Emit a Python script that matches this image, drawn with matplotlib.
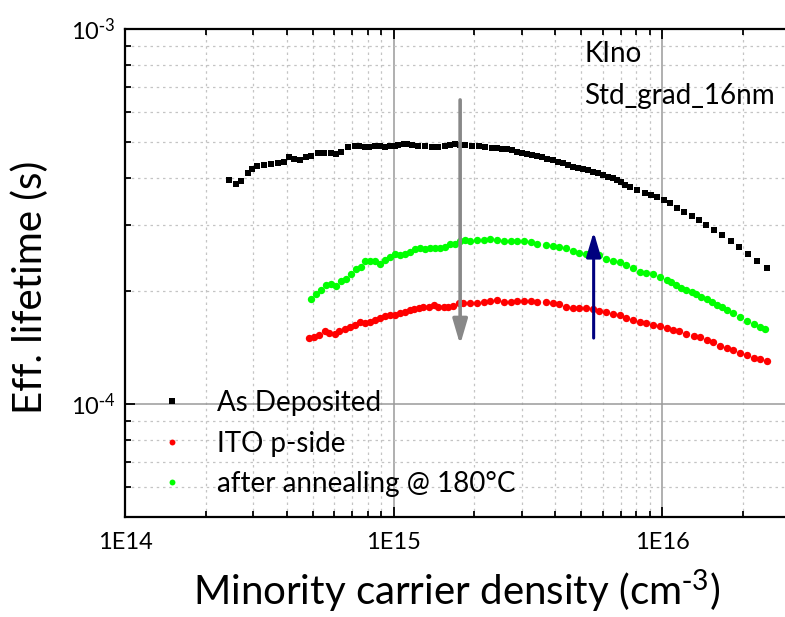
import numpy as np
import matplotlib
matplotlib.use("Agg")
import matplotlib.pyplot as plt
from matplotlib.ticker import FixedLocator, FuncFormatter, LogLocator, NullFormatter

plt.rcParams['font.family'] = ['Lato', 'DejaVu Sans']

# As Deposited (black squares)
dep_n = [2.44e14, 2.58e14, 2.71e14, 2.86e14, 2.98e14, 3.11e14, 3.30e14, 3.49e14, 3.70e14, 3.92e14,
         4.09e14, 4.27e14, 4.50e14, 4.72e14, 4.93e14, 5.22e14, 5.53e14, 5.86e14, 6.12e14, 6.38e14,
         6.76e14, 7.16e14, 7.46e14, 7.81e14, 8.13e14, 8.51e14, 8.87e14, 9.27e14, 9.66e14, 1.01e15,
         1.04e15, 1.09e15, 1.12e15, 1.17e15, 1.23e15, 1.31e15, 1.39e15, 1.47e15, 1.56e15, 1.62e15,
         1.70e15, 1.77e15, 1.85e15, 1.96e15, 2.08e15, 2.19e15, 2.33e15, 2.43e15, 2.54e15, 2.65e15,
         2.77e15, 2.89e15, 3.02e15, 3.15e15, 3.29e15, 3.43e15, 3.58e15, 3.74e15, 3.91e15, 4.08e15,
         4.26e15, 4.45e15, 4.64e15, 4.85e15, 5.06e15, 5.28e15, 5.52e15, 5.76e15, 6.01e15, 6.28e15,
         6.55e15, 6.78e15, 7.04e15, 7.30e15, 7.57e15, 8.08e15, 8.61e15, 9.12e15, 9.58e15, 1.014e16,
         1.074e16, 1.138e16, 1.208e16, 1.288e16, 1.372e16, 1.457e16, 1.556e16, 1.667e16, 1.798e16,
         1.937e16, 2.088e16, 2.254e16, 2.459e16]
dep_tau = [3.96e-4, 3.86e-4, 3.94e-4, 4.14e-4, 4.23e-4, 4.30e-4, 4.34e-4, 4.36e-4, 4.38e-4, 4.41e-4,
           4.57e-4, 4.50e-4, 4.48e-4, 4.55e-4, 4.59e-4, 4.66e-4, 4.66e-4, 4.66e-4, 4.63e-4, 4.69e-4,
           4.84e-4, 4.88e-4, 4.87e-4, 4.86e-4, 4.86e-4, 4.88e-4, 4.87e-4, 4.86e-4, 4.87e-4, 4.89e-4,
           4.92e-4, 4.95e-4, 4.94e-4, 4.91e-4, 4.89e-4, 4.89e-4, 4.86e-4, 4.86e-4, 4.89e-4, 4.91e-4,
           4.94e-4, 4.92e-4, 4.91e-4, 4.89e-4, 4.88e-4, 4.85e-4, 4.82e-4, 4.81e-4, 4.80e-4, 4.78e-4,
           4.75e-4, 4.71e-4, 4.68e-4, 4.65e-4, 4.61e-4, 4.58e-4, 4.55e-4, 4.51e-4, 4.47e-4, 4.43e-4,
           4.38e-4, 4.34e-4, 4.29e-4, 4.26e-4, 4.24e-4, 4.20e-4, 4.16e-4, 4.12e-4, 4.08e-4, 4.04e-4,
           4.00e-4, 3.95e-4, 3.90e-4, 3.85e-4, 3.80e-4, 3.72e-4, 3.66e-4, 3.61e-4, 3.56e-4, 3.50e-4,
           3.43e-4, 3.34e-4, 3.26e-4, 3.18e-4, 3.10e-4, 3.01e-4, 2.92e-4, 2.83e-4, 2.73e-4,
           2.62e-4, 2.52e-4, 2.41e-4, 2.30e-4]

# ITO p-side (red)
ito_n = [4.86e14, 5.07e14, 5.30e14, 5.57e14, 5.77e14, 6.03e14, 6.29e14, 6.57e14, 6.86e14, 7.16e14,
         7.48e14, 7.81e14, 8.15e14, 8.51e14, 8.89e14, 9.27e14, 9.68e14, 1.01e15, 1.06e15, 1.10e15,
         1.15e15, 1.19e15, 1.24e15, 1.29e15, 1.35e15, 1.41e15, 1.47e15, 1.54e15, 1.60e15, 1.67e15,
         1.75e15, 1.82e15, 1.93e15, 2.05e15, 2.17e15, 2.29e15, 2.43e15, 2.58e15, 2.73e15, 2.89e15,
         3.06e15, 3.24e15, 3.43e15, 3.69e15, 3.91e15, 4.14e15, 4.38e15, 4.64e15, 4.92e15, 5.21e15,
         5.52e15, 5.84e15, 6.19e15, 6.55e15, 6.94e15, 7.35e15, 7.79e15, 8.25e15, 8.74e15, 9.25e15,
         9.80e15, 1.04e16, 1.10e16, 1.16e16, 1.23e16, 1.31e16, 1.38e16, 1.47e16, 1.55e16, 1.64e16,
         1.74e16, 1.84e16, 1.95e16, 2.07e16, 2.19e16, 2.32e16, 2.46e16]
ito_tau = [1.50e-4, 1.51e-4, 1.53e-4, 1.57e-4, 1.55e-4, 1.54e-4, 1.57e-4, 1.59e-4, 1.61e-4, 1.63e-4,
           1.66e-4, 1.65e-4, 1.66e-4, 1.68e-4, 1.70e-4, 1.72e-4, 1.73e-4, 1.73e-4, 1.75e-4, 1.76e-4,
           1.78e-4, 1.79e-4, 1.80e-4, 1.81e-4, 1.82e-4, 1.84e-4, 1.82e-4, 1.81e-4, 1.81e-4, 1.83e-4,
           1.86e-4, 1.86e-4, 1.86e-4, 1.86e-4, 1.87e-4, 1.88e-4, 1.89e-4, 1.87e-4, 1.87e-4, 1.88e-4,
           1.88e-4, 1.88e-4, 1.87e-4, 1.87e-4, 1.86e-4, 1.85e-4, 1.82e-4, 1.80e-4, 1.80e-4, 1.80e-4,
           1.79e-4, 1.77e-4, 1.76e-4, 1.74e-4, 1.73e-4, 1.70e-4, 1.68e-4, 1.66e-4, 1.65e-4, 1.63e-4,
           1.62e-4, 1.60e-4, 1.58e-4, 1.57e-4, 1.54e-4, 1.52e-4, 1.51e-4, 1.48e-4, 1.46e-4, 1.43e-4,
           1.41e-4, 1.39e-4, 1.37e-4, 1.35e-4, 1.33e-4, 1.32e-4, 1.30e-4]

# after annealing @ 180C (green)
ann_n = [4.93e14, 5.15e14, 5.37e14, 5.61e14, 5.86e14, 6.12e14, 6.38e14, 6.67e14, 6.96e14, 7.27e14,
         7.59e14, 7.81e14, 8.15e14, 8.51e14, 8.89e14, 9.27e14, 9.68e14, 1.01e15, 1.06e15, 1.10e15,
         1.15e15, 1.20e15, 1.25e15, 1.31e15, 1.37e15, 1.43e15, 1.49e15, 1.56e15, 1.62e15, 1.70e15,
         1.77e15, 1.85e15, 1.93e15, 2.05e15, 2.17e15, 2.29e15, 2.43e15, 2.58e15, 2.73e15, 2.89e15,
         3.06e15, 3.24e15, 3.43e15, 3.69e15, 3.91e15, 4.14e15, 4.38e15, 4.64e15, 4.92e15, 5.21e15,
         5.52e15, 5.84e15, 6.19e15, 6.55e15, 6.94e15, 7.35e15, 7.79e15, 8.25e15, 8.74e15, 9.25e15,
         9.80e15, 1.04e16, 1.08e16, 1.13e16, 1.18e16, 1.23e16, 1.29e16, 1.34e16, 1.40e16, 1.47e16,
         1.53e16, 1.60e16, 1.67e16, 1.74e16, 1.84e16, 1.95e16, 2.07e16, 2.19e16, 2.32e16, 2.42e16]
ann_tau = [1.91e-4, 1.96e-4, 2.01e-4, 2.08e-4, 2.09e-4, 2.06e-4, 2.13e-4, 2.16e-4, 2.22e-4, 2.29e-4,
           2.32e-4, 2.41e-4, 2.41e-4, 2.40e-4, 2.36e-4, 2.42e-4, 2.46e-4, 2.52e-4, 2.50e-4, 2.51e-4,
           2.55e-4, 2.59e-4, 2.61e-4, 2.59e-4, 2.61e-4, 2.60e-4, 2.60e-4, 2.63e-4, 2.67e-4, 2.68e-4,
           2.72e-4, 2.74e-4, 2.73e-4, 2.74e-4, 2.74e-4, 2.75e-4, 2.74e-4, 2.73e-4, 2.73e-4, 2.73e-4,
           2.72e-4, 2.70e-4, 2.68e-4, 2.65e-4, 2.64e-4, 2.63e-4, 2.60e-4, 2.56e-4, 2.53e-4, 2.52e-4,
           2.50e-4, 2.50e-4, 2.44e-4, 2.41e-4, 2.39e-4, 2.35e-4, 2.30e-4, 2.25e-4, 2.23e-4, 2.22e-4,
           2.18e-4, 2.14e-4, 2.11e-4, 2.08e-4, 2.04e-4, 2.01e-4, 1.99e-4, 1.96e-4, 1.93e-4, 1.91e-4,
           1.87e-4, 1.84e-4, 1.81e-4, 1.78e-4, 1.75e-4, 1.71e-4, 1.67e-4, 1.64e-4, 1.61e-4, 1.59e-4]

# arrows: (x, tail y, head y)
arrow_down = (1.77e15, 6.47e-4, 1.44e-4)
arrow_up = (5.56e15, 1.50e-4, 2.88e-4)

fig = plt.figure(figsize=(7.85, 6.17), dpi=100)
ax = fig.add_axes([0.1592, 0.162, 0.846, 0.791])

ax.plot(dep_n, dep_tau, ls='none', marker='s', ms=5.0, color='black', mew=0, label='As Deposited')
ax.plot(ito_n, ito_tau, ls='none', marker='o', ms=5.3, color='#ff0000', mew=0, label='ITO p-side')
ax.plot(ann_n, ann_tau, ls='none', marker='o', ms=5.3, color='#00ff00', mew=0,
        label='after annealing @ 180°C')

ax.annotate('', xy=(arrow_down[0], arrow_down[2]), xytext=(arrow_down[0], arrow_down[1]),
            arrowprops=dict(arrowstyle='-|>,head_length=0.75,head_width=0.22', color='#888888',
                            lw=2.6, mutation_scale=20, shrinkA=0, shrinkB=0))
ax.annotate('', xy=(arrow_up[0], arrow_up[2]), xytext=(arrow_up[0], arrow_up[1]),
            arrowprops=dict(arrowstyle='-|>,head_length=0.75,head_width=0.22', color='#00007f',
                            lw=2.2, mutation_scale=20, shrinkA=0, shrinkB=0))

ax.set_xscale('log')
ax.set_yscale('log')
ax.set_xlim(1e14, 2.97e16)
ax.set_ylim(5e-5, 1e-3)

ax.xaxis.set_major_locator(FixedLocator([1e14, 1e15, 1e16]))
ax.xaxis.set_major_formatter(FuncFormatter(lambda v, _: "1E%d" % round(np.log10(v))))
ax.xaxis.set_minor_locator(LogLocator(base=10, subs=np.arange(2, 10)))
ax.xaxis.set_minor_formatter(NullFormatter())
ax.yaxis.set_major_locator(FixedLocator([1e-4, 1e-3]))
ax.yaxis.set_major_formatter(FuncFormatter(
    lambda v, _: r"$\mathregular{10^{\text{-}%d}}$" % round(-np.log10(v))))
ax.yaxis.set_minor_locator(LogLocator(base=10, subs=np.arange(2, 10)))
ax.yaxis.set_minor_formatter(NullFormatter())

ax.grid(which='major', color='#9a9a9a', lw=1.1, ls='-')
ax.grid(which='minor', color='#c4c4c4', lw=0.9, ls=(0, (2, 3)))
ax.set_axisbelow(True)

for s in ['left', 'top', 'bottom']:
    ax.spines[s].set_linewidth(1.6)
ax.spines['right'].set_visible(False)
ax.tick_params(which='both', direction='in', top=True, right=False, labelsize=17, width=1.3)
ax.tick_params(which='major', length=7)
ax.tick_params(which='minor', length=4)
ax.tick_params(axis='x', pad=11)
ax.tick_params(axis='y', pad=7)

ax.set_xlabel(r"Minority carrier density (cm$\mathregular{^{\text{-}3}}$)", fontsize=29)
ax.xaxis.set_label_coords(0.5, -0.104)
ax.set_ylabel("Eff. lifetime (s)", fontsize=29)
ax.yaxis.set_label_coords(-0.114, 0.47)

ax.text(0.692, 0.932, "KIno", transform=ax.transAxes, fontsize=20, va='baseline')
ax.text(0.692, 0.846, "Std_grad_16nm", transform=ax.transAxes, fontsize=20, va='baseline')

ax.legend(loc='upper left', bbox_to_anchor=(0.050, 0.26), frameon=False, fontsize=20,
          handlelength=1.0, handletextpad=1.1, borderpad=0, borderaxespad=0, labelspacing=0.52,
          markerscale=0.8)

fig.savefig('out.png', dpi=100)
